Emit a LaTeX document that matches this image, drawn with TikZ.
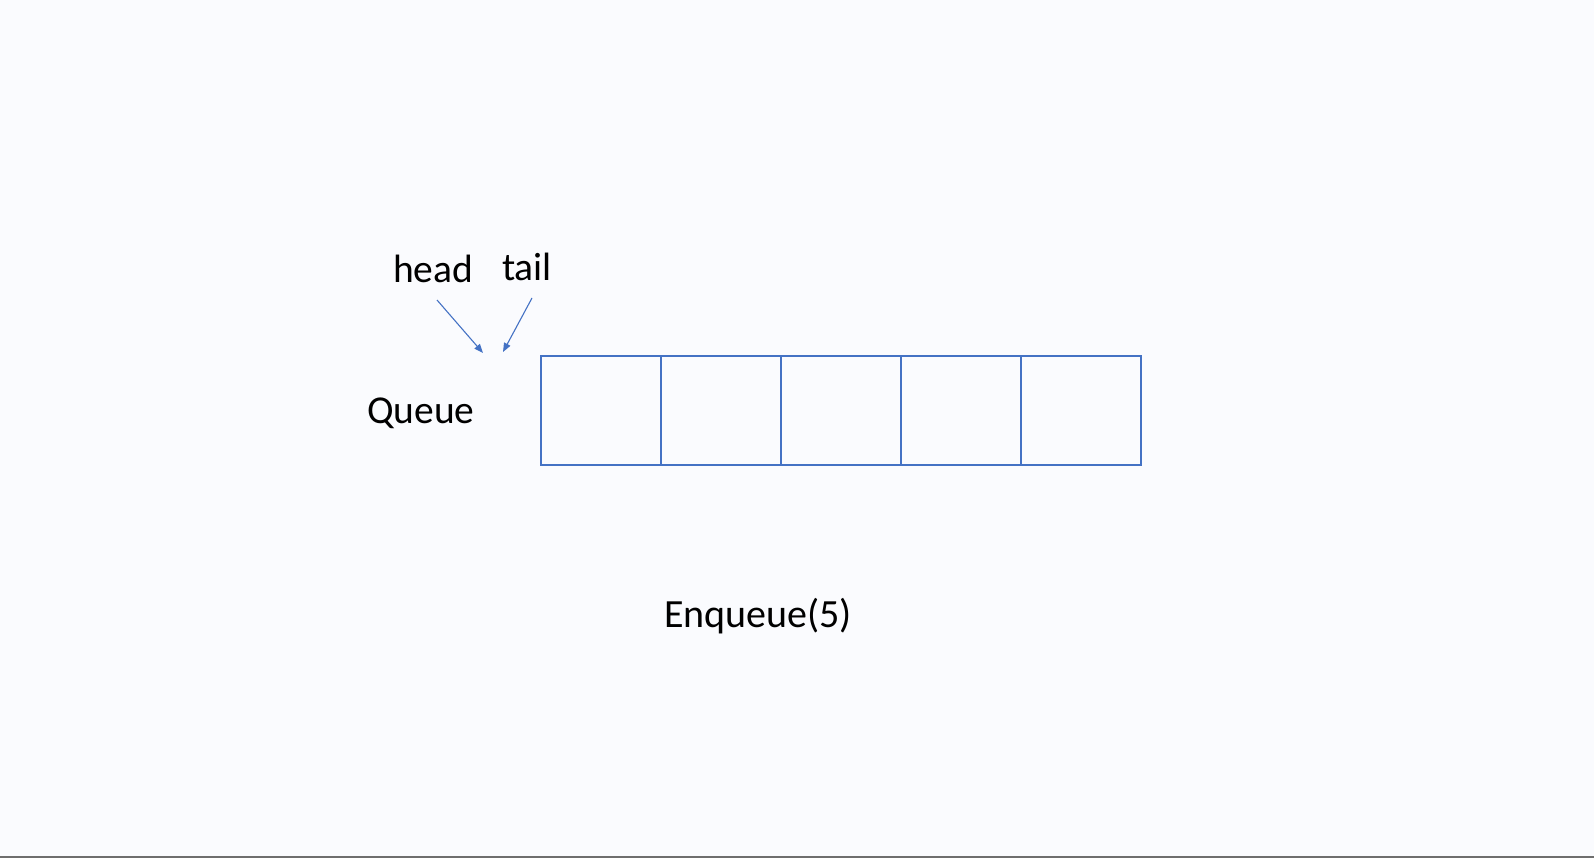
\documentclass[tikz,border=0pt]{standalone}
\usepackage{fontspec}
\setmainfont{Carlito}
\usetikzlibrary{arrows.meta}
\definecolor{bg}{RGB}{250,251,254}
\definecolor{office}{RGB}{68,114,196}
\definecolor{edge}{RGB}{110,110,110}
\tikzset{
  lbl/.style={anchor=base west, inner sep=0pt, font=\fontsize{39.5}{46}\selectfont, text=black},
  cell/.style={draw=office, line width=2pt, minimum width=120pt, minimum height=109pt, inner sep=0pt, anchor=north west},
  ptr/.style={draw=office, line width=1.1pt, -{Triangle[length=9pt,width=7pt]}}
}
\begin{document}
\begin{tikzpicture}[x=1pt,y=-1pt]
\fill[bg] (0,0) rectangle (1594,858);
\useasboundingbox (0,0) rectangle (1594,858);
\fill[edge] (0,855.5) rectangle (1594,858);
\node[lbl] (head) at (393,283) {head};
\node[lbl] (tail) at (502,281) {tail};
\node[lbl] (queue) at (367,423) {Queue};
\node[lbl, font=\fontsize{40}{46}\selectfont] (enq) at (664,627) {Enqueue(5)};
\foreach \i in {0,...,4} {
  \node[cell] (c\i) at (540+120*\i,355) {};
}
\coordinate (hs) at (437,300);
\coordinate (he) at (483,353);
\coordinate (ts) at (532,298);
\coordinate (te) at (503,352);
\draw[ptr] (hs) -- (he);
\draw[ptr] (ts) -- (te);
\end{tikzpicture}
\end{document}
